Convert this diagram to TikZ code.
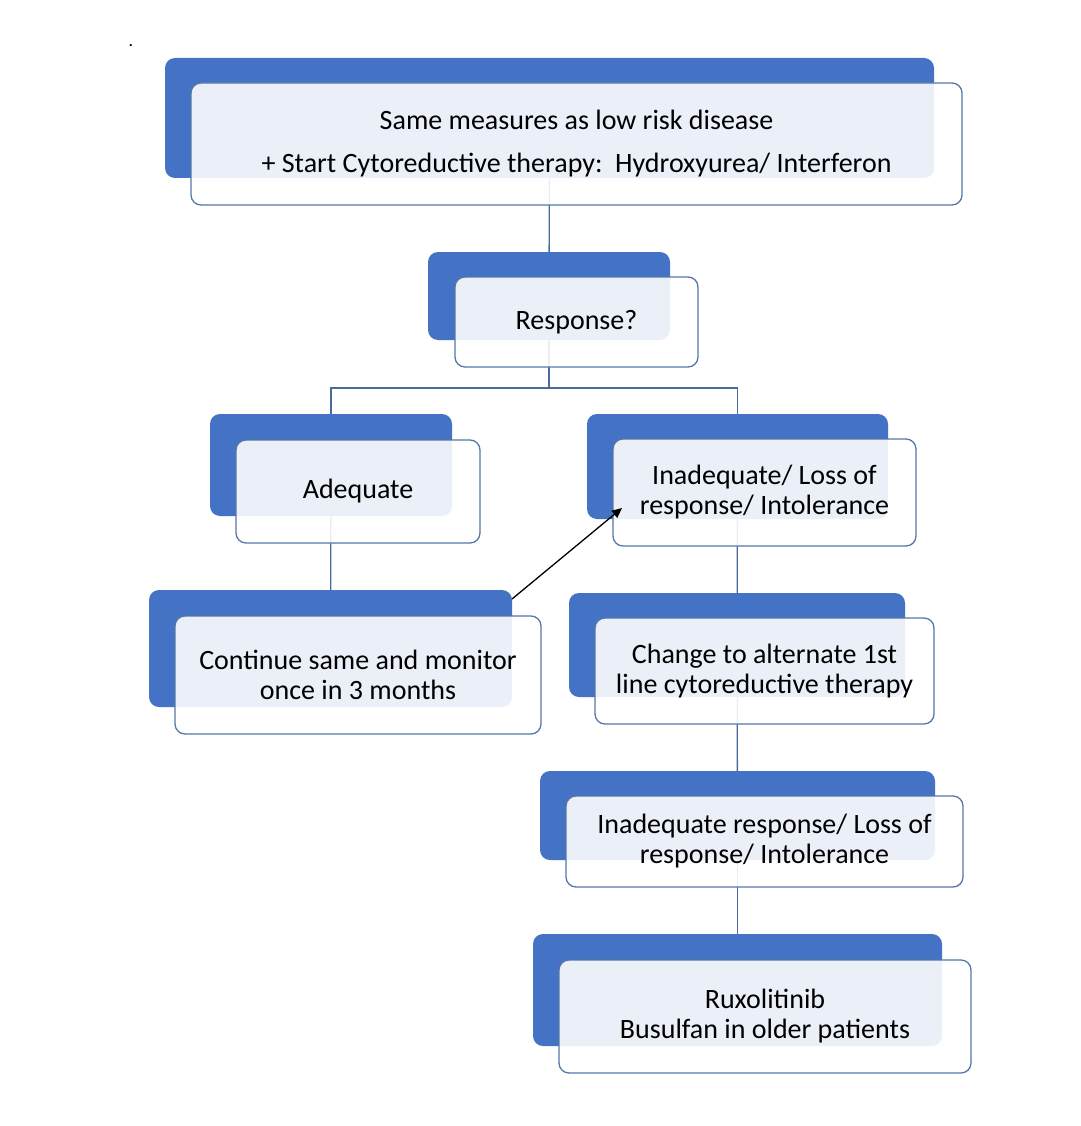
\documentclass[tikz,border=0pt]{standalone}
\usepackage{fontspec}
\setmainfont{Carlito}
\usetikzlibrary{arrows.meta,backgrounds}
\definecolor{backblue}{HTML}{4472C4}
\definecolor{frontline}{HTML}{5677A8}
\definecolor{linkline}{HTML}{4A6A9A}
\tikzset{
  backbox/.style={rectangle, fill=backblue, rounded corners=10pt, inner sep=0pt, outer sep=0pt},
  frontbox/.style={rectangle, fill=white, fill opacity=0.89, text opacity=1, draw=frontline, line width=1.3pt,
    rounded corners=10pt, inner sep=0pt, outer sep=0pt, align=center, font=\fontsize{28}{30}\selectfont},
  link/.style={draw=linkline, line width=1.3pt},
  jump/.style={draw=black, line width=1.3pt, -{Triangle[length=10pt,width=9pt]}}
}
\begin{document}
\begin{tikzpicture}[x=1pt,y=-1pt]
\useasboundingbox (0,0) rectangle (1080,1126);
\node[font=\fontsize{18}{20}\selectfont, inner sep=0pt, anchor=base] (dot) at (131,47) {.};
% box 1
\node[backbox, minimum width=769pt, minimum height=120pt] (b1) at (549.5,118) {};
\node[frontbox, minimum width=771pt, minimum height=122pt] (f1) at (576.5,144)
  {Same measures as low risk disease\\[13pt] + Start Cytoreductive therapy:\ \ Hydroxyurea/ Interferon};
% box 2
\node[backbox, minimum width=242pt, minimum height=88pt] (b2) at (549,296) {};
\node[frontbox, minimum width=243pt, minimum height=90pt] (f2) at (576.5,322) {Response?};
% box 3
\node[backbox, minimum width=242pt, minimum height=102pt] (b3) at (331,465) {};
\node[frontbox, minimum width=244pt, minimum height=103pt] (f3) at (358,491.5) {Adequate};
% box 4
\node[backbox, minimum width=301pt, minimum height=105pt] (b4) at (737.5,466.5) {};
\node[frontbox, minimum width=303pt, minimum height=107pt] (f4) at (764.5,492.5) {Inadequate/ Loss of\\response/ Intolerance};
% box 5
\node[backbox, minimum width=363pt, minimum height=117pt] (b5) at (330.5,648.5) {};
\node[frontbox, minimum width=366pt, minimum height=118pt] (f5) at (358,675) {Continue same and monitor\\once in 3 months};
% box 6
\node[backbox, minimum width=336pt, minimum height=104pt] (b6) at (737,645) {};
\node[frontbox, minimum width=339pt, minimum height=106pt] (f6) at (764.5,671) {Change to alternate 1st\\line cytoreductive therapy};
% box 7
\node[backbox, minimum width=395pt, minimum height=89pt] (b7) at (737.5,815.5) {};
\node[frontbox, minimum width=397pt, minimum height=91pt] (f7) at (764.5,841.5) {Inadequate response/ Loss of\\response/ Intolerance};
% box 8
\node[backbox, minimum width=409pt, minimum height=112pt] (b8) at (737.5,990) {};
\node[frontbox, minimum width=412pt, minimum height=113pt] (f8) at (765,1016.5) {Ruxolitinib\\Busulfan in older patients};
% connectors
\coordinate (split) at (549,388);
\begin{pgfonlayer}{background}
\fill[white] (0,0) rectangle (1080,1126);
\draw[link] (b1.center) -- (b2.center);
\draw[link] (b2.center) -- (split) -| (b3.center);
\draw[link] (split) -| (b4.center);
\draw[link] (b3.center) -- (b5.center);
\draw[link] (b4.center) -- (b6.center);
\draw[link] (b6.center) -- (b7.center);
\draw[link] (b7.center) -- (b8.center);
\end{pgfonlayer}
\draw[jump] ([yshift=-9pt]b5.north east) -- ([xshift=9pt,yshift=38pt]f4.south west);
\end{tikzpicture}
\end{document}
